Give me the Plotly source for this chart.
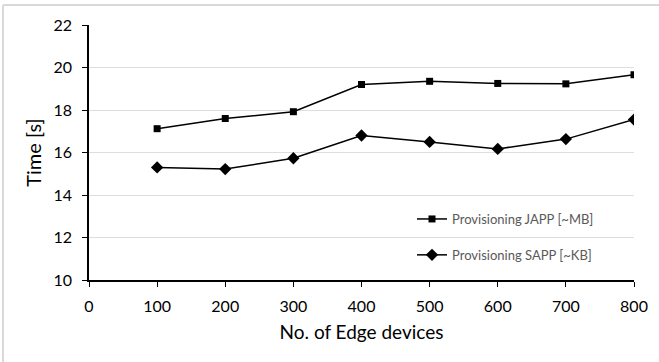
import plotly.graph_objects as go

devices = [100, 200, 300, 400, 500, 600, 700, 800]
japp = [17.12, 17.6, 17.92, 19.2, 19.35, 19.25, 19.23, 19.66]
sapp = [15.3, 15.22, 15.73, 16.8, 16.5, 16.17, 16.63, 17.55]
names = ["Provisioning JAPP [~MB]", "Provisioning SAPP [~KB]"]
x_ticks = [0, 100, 200, 300, 400, 500, 600, 700, 800]
y_ticks = [10, 12, 14, 16, 18, 20, 22]

FONT = "Lato"
W, H = 659, 362
L, R, T, B = 89, 25, 25, 82
pw, ph = W - L - R, H - T - B

def px(xp):
    return (xp - L) / pw

def py(yp):
    return (H - B - yp) / ph

fig = go.Figure()
fig.add_trace(go.Scatter(
    x=devices, y=japp, name=names[0], mode="lines+markers",
    line=dict(color="black", width=1.5),
    marker=dict(symbol="square", size=7, color="black"),
    legendgroup="a"))
fig.add_trace(go.Scatter(
    x=devices, y=sapp, name=names[1], mode="lines+markers",
    line=dict(color="black", width=1.5),
    marker=dict(symbol="diamond", size=9.5, color="black"),
    legendgroup="b"))

fig.update_layout(
    width=W, height=H,
    margin=dict(l=L, r=R, t=T, b=B),
    paper_bgcolor="white", plot_bgcolor="white",
    font=dict(family=FONT, color="black"),
    showlegend=True,
    legend=dict(
        x=px(412), y=py(204), xanchor="left", yanchor="top",
        bgcolor="rgba(0,0,0,0)", borderwidth=0,
        font=dict(family=FONT, size=13, color="#595959"),
        tracegroupgap=16,
    ),
    xaxis=dict(
        range=[0, 800], tickvals=x_ticks, ticktext=[str(v) for v in x_ticks],
        showgrid=False, showline=True, linecolor="black", linewidth=1.5,
        ticks="outside", ticklen=5, tickcolor="black", tickwidth=1,
        ticklabelstandoff=6,
        tickfont=dict(size=16, family=FONT, color="black"),
        title=dict(text="No. of Edge devices", font=dict(size=19, family=FONT, color="black"), standoff=12),
        zeroline=False,
    ),
    yaxis=dict(
        range=[10, 22], tickvals=y_ticks, ticktext=[str(v) for v in y_ticks],
        showgrid=True, gridcolor="#dedede", gridwidth=1,
        showline=True, linecolor="black", linewidth=1.5,
        ticks="outside", ticklen=5, tickcolor="black", tickwidth=1,
        ticklabelstandoff=7,
        tickfont=dict(size=16, family=FONT, color="black"),
        title=dict(text="Time [s]", font=dict(size=20, family=FONT, color="black"), standoff=6),
        zeroline=False,
    ),
    shapes=[
        dict(type="rect", xref="x", yref="y", x0=404, x1=800, y0=10.2, y1=13.7,
             fillcolor="white", line=dict(width=0), layer="below"),
        dict(type="line", xref="paper", yref="paper", x0=px(3), x1=px(W + 5), y0=py(5), y1=py(5),
             line=dict(color="#d9d9d9", width=2)),
        dict(type="line", xref="paper", yref="paper", x0=px(3), x1=px(3), y0=py(5), y1=py(H + 5),
             line=dict(color="#d9d9d9", width=2)),
    ],
)

fig.write_html("out.html")
